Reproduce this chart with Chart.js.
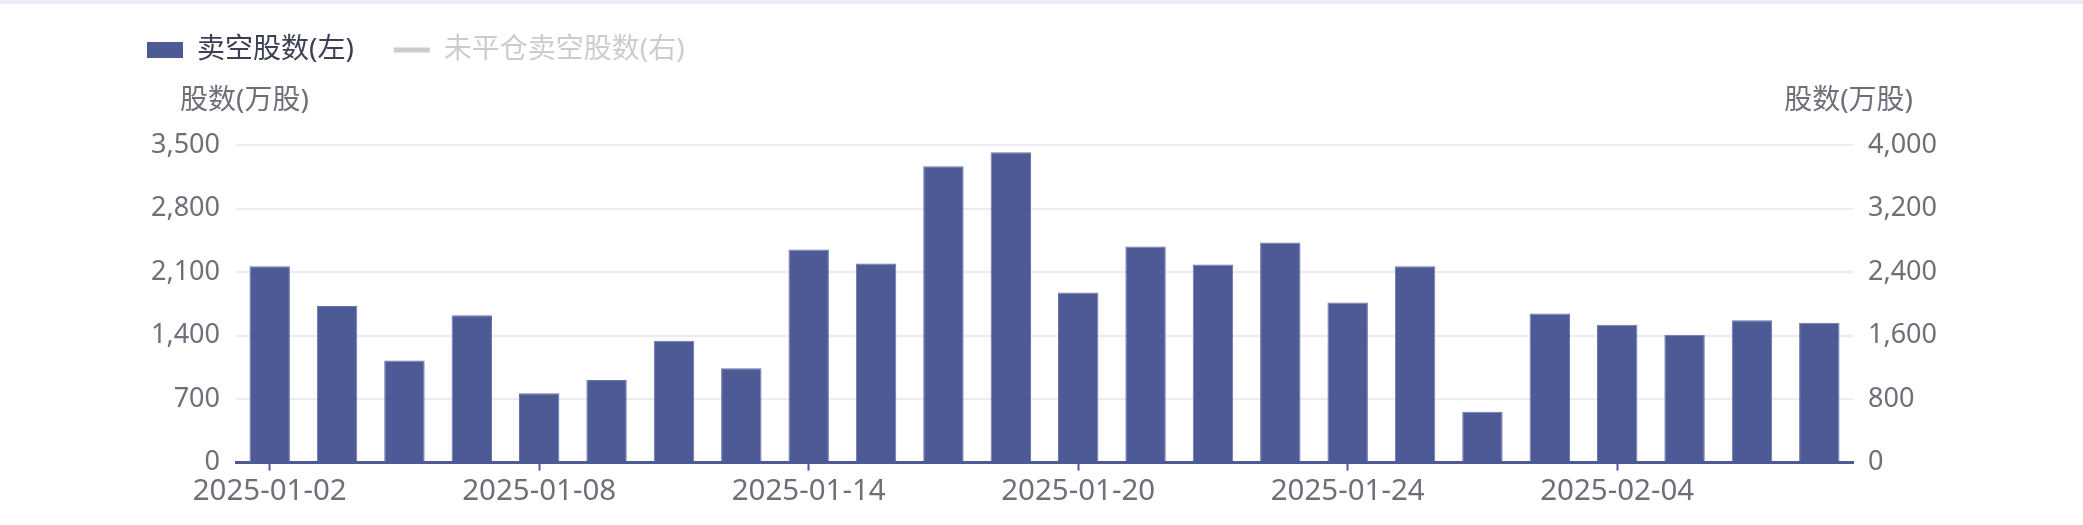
<!DOCTYPE html>
<html>
<head>
<meta charset="utf-8">
<script src="https://cdn.jsdelivr.net/npm/chart.js@4.4.1/dist/chart.umd.min.js"></script>
<style>
    html, body { margin: 0; padding: 0; background: #fff; }
    #wrap { position: relative; width: 2083px; height: 525px; }
    #topline { position: absolute; left: 0; top: 0; width: 100%; height: 4px; background: #ebebf5; }
</style>
</head>
<body>
<div id="wrap">
    <canvas id="chart" width="2083" height="525"></canvas>
    <div id="topline"></div>
</div>
<script>
// 日期 (港股交易日)
const dates = [
    "2025-01-02", "2025-01-03", "2025-01-06", "2025-01-07", "2025-01-08", "2025-01-09",
    "2025-01-10", "2025-01-13", "2025-01-14", "2025-01-15", "2025-01-16", "2025-01-17",
    "2025-01-20", "2025-01-21", "2025-01-22", "2025-01-23", "2025-01-24", "2025-01-27",
    "2025-01-28", "2025-02-03", "2025-02-04", "2025-02-05", "2025-02-06", "2025-02-07"
];
// 卖空股数 (万股)
const shortValues = [
    2164, 1726, 1126, 1623, 765, 909, 1343, 1041, 2348, 2193, 3265, 3419,
    1874, 2381, 2183, 2426, 1763, 2164, 560, 1642, 1520, 1410, 1568, 1542
];
// 未平仓卖空股数 - hidden in the picture, no values visible
const openShortValues = [];

const leftTicks = [0, 700, 1400, 2100, 2800, 3500];
const rightTicks = [0, 800, 1600, 2400, 3200, 4000];

const barColor = "#4e5a96";
const textColor = "#6e7079";
const gridColor = "#ebebf5";
const fontFamily = '"Noto Sans", "Noto Sans CJK SC", sans-serif';

// legend box in chart.js is too short, stretch it so the plot starts lower
const legendHeight = {
    id: "legendHeight",
    beforeInit(chart) {
        if (!chart.legend) return;
        const fit = chart.legend.fit;
        chart.legend.fit = function () {
            fit.call(this);
            this.height = 149;
        };
    }
};

// horizontal axis names above both y axes
const axisNames = {
    id: "axisNames",
    afterDraw(chart) {
        const ctx = chart.ctx;
        const area = chart.chartArea;
        ctx.save();
        ctx.font = "28px " + fontFamily;
        ctx.fillStyle = textColor;
        ctx.textBaseline = "middle";
        ctx.textAlign = "left";
        ctx.fillText("股数(万股)", area.left - 56, 101);
        ctx.textAlign = "right";
        ctx.fillText("股数(万股)", area.right + 60, 101);
        ctx.restore();
    }
};

const ctx = document.getElementById("chart").getContext("2d");
const myChart = new Chart(ctx, {
    data: {
        labels: dates,
        datasets: [
            {
                type: "bar",
                label: "卖空股数(左)",
                data: shortValues,
                yAxisID: "y",
                backgroundColor: barColor,
                borderColor: "#6a74ae",
                borderWidth: 1,
                borderSkipped: "bottom",
                barPercentage: 0.6,
                categoryPercentage: 1.0,
                order: 2
            },
            {
                type: "line",
                label: "未平仓卖空股数(右)",
                data: openShortValues,
                yAxisID: "y1",
                borderColor: "#cccccc",
                backgroundColor: "#cccccc",
                hidden: true,
                order: 1
            }
        ]
    },
    options: {
        responsive: false,
        animation: false,
        devicePixelRatio: 1,
        layout: {
            padding: { left: 107, right: 0, top: -4, bottom: 13 }
        },
        plugins: {
            legend: {
                position: "top",
                align: "start",
                labels: {
                    usePointStyle: true,
                    pointStyleWidth: 36,
                    boxHeight: 16,
                    padding: 40,
                    font: { size: 28, family: fontFamily },
                    generateLabels(chart) {
                        return chart.data.datasets.map(function (ds, i) {
                            const off = !chart.isDatasetVisible(i);
                            const col = off ? "#cccccc" : ds.backgroundColor;
                            return {
                                text: ds.label,
                                datasetIndex: i,
                                hidden: false,
                                fontColor: off ? "#cccccc" : "#3d3f55",
                                fillStyle: col,
                                strokeStyle: col,
                                lineWidth: ds.type === "line" ? 5 : 0,
                                pointStyle: ds.type === "line" ? "line" : "rect"
                            };
                        });
                    }
                }
            },
            tooltip: { enabled: false }
        },
        scales: {
            x: {
                offset: true,
                grid: {
                    offset: false,
                    drawOnChartArea: false,
                    drawTicks: true,
                    tickLength: 8,
                    tickWidth: 2,
                    tickColor: function (c) {
                        return c.index % 4 === 0 ? barColor : "rgba(0,0,0,0)";
                    }
                },
                border: { display: true, color: barColor, width: 3 },
                ticks: {
                    autoSkip: false,
                    maxRotation: 0,
                    padding: 3,
                    color: textColor,
                    font: { size: 29.5, family: fontFamily },
                    callback: function (value, index) {
                        return index % 4 === 0 ? dates[index] : "";
                    }
                }
            },
            y: {
                position: "left",
                min: leftTicks[0],
                max: leftTicks[leftTicks.length - 1],
                afterBuildTicks: function (scale) {
                    scale.ticks = leftTicks.map(function (v) { return { value: v }; });
                },
                afterFit: function (scale) { scale.width = 129; },
                grid: {
                    color: function (c) {
                        return c.tick && c.tick.value === 0 ? "rgba(0,0,0,0)" : gridColor;
                    },
                    lineWidth: 2,
                    drawTicks: false
                },
                border: { display: false },
                ticks: {
                    padding: 16,
                    color: textColor,
                    font: { size: 27, family: fontFamily },
                    callback: function (v) { return v.toLocaleString("en-US"); }
                }
            },
            y1: {
                position: "right",
                min: rightTicks[0],
                max: rightTicks[rightTicks.length - 1],
                afterBuildTicks: function (scale) {
                    scale.ticks = rightTicks.map(function (v) { return { value: v }; });
                },
                afterFit: function (scale) { scale.width = 230; },
                grid: { drawOnChartArea: false, drawTicks: false },
                border: { display: false },
                ticks: {
                    padding: 15,
                    color: textColor,
                    font: { size: 27, family: fontFamily },
                    callback: function (v) { return v.toLocaleString("en-US"); }
                }
            }
        }
    },
    plugins: [legendHeight, axisNames]
});
</script>
</body>
</html>
